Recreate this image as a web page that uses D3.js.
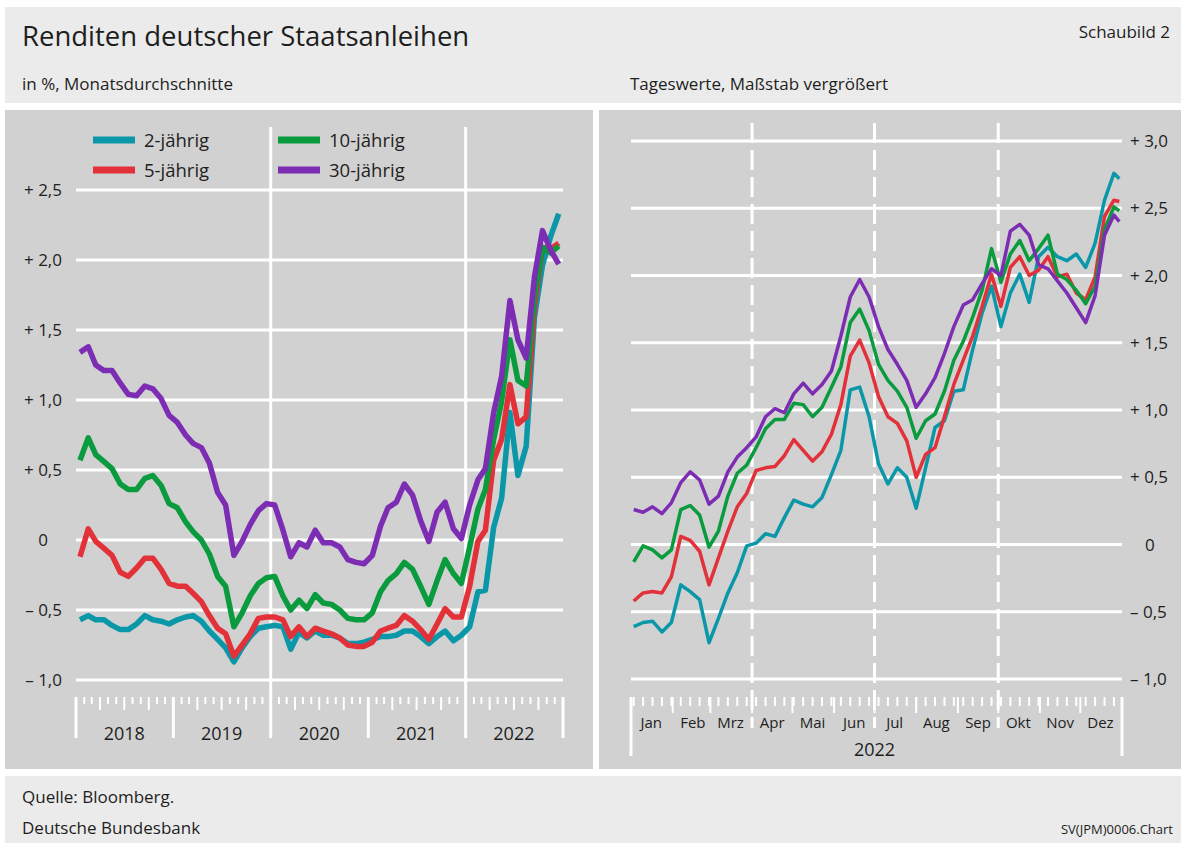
<!DOCTYPE html>
<html>
<head>
<meta charset="utf-8">
<script src="https://cdn.jsdelivr.net/npm/d3@7"></script>
<style>
  body { margin: 0; background: #fff; }
  svg text { font-family: "Open Sans", "Noto Sans", sans-serif; fill: #1e1e1e; }
</style>
</head>
<body>
<script>
// Monatsdurchschnitte Jan 2018 - Dez 2022 (in %)
var jahre = ["2018", "2019", "2020", "2021", "2022"];
var rendite2 = [
  -0.57,-0.54,-0.57,-0.57,-0.61,-0.64,-0.64,-0.60,-0.54,-0.57,-0.58,-0.60,
  -0.57,-0.55,-0.54,-0.58,-0.65,-0.71,-0.77,-0.87,-0.77,-0.69,-0.63,-0.62,
  -0.61,-0.62,-0.78,-0.66,-0.70,-0.65,-0.68,-0.68,-0.70,-0.74,-0.74,-0.73,
  -0.71,-0.69,-0.69,-0.68,-0.65,-0.65,-0.69,-0.74,-0.69,-0.65,-0.72,-0.68,
  -0.62,-0.37,-0.36,0.09,0.30,0.91,0.46,0.67,1.59,1.96,2.17,2.33];
var rendite5 = [
  -0.12,0.08,-0.01,-0.06,-0.11,-0.23,-0.26,-0.20,-0.13,-0.13,-0.21,-0.31,
  -0.33,-0.33,-0.38,-0.44,-0.54,-0.63,-0.67,-0.83,-0.75,-0.67,-0.56,-0.55,
  -0.55,-0.57,-0.69,-0.62,-0.69,-0.63,-0.65,-0.67,-0.70,-0.75,-0.76,-0.76,
  -0.73,-0.65,-0.63,-0.61,-0.54,-0.58,-0.64,-0.71,-0.60,-0.49,-0.55,-0.55,
  -0.33,-0.01,0.07,0.57,0.72,1.11,0.83,0.88,1.67,2.09,2.08,2.12];
var rendite10 = [
  0.57,0.73,0.61,0.56,0.51,0.40,0.36,0.36,0.44,0.46,0.39,0.26,
  0.23,0.13,0.06,0.00,-0.10,-0.26,-0.33,-0.62,-0.52,-0.40,-0.31,-0.27,
  -0.26,-0.40,-0.50,-0.43,-0.49,-0.39,-0.45,-0.46,-0.50,-0.56,-0.57,-0.57,
  -0.52,-0.37,-0.29,-0.24,-0.16,-0.21,-0.33,-0.46,-0.29,-0.14,-0.24,-0.31,
  -0.05,0.22,0.36,0.72,0.99,1.43,1.14,1.10,1.75,2.09,2.05,2.10];
var rendite30 = [
  1.34,1.38,1.25,1.21,1.21,1.12,1.04,1.03,1.10,1.08,1.01,0.89,
  0.84,0.75,0.69,0.66,0.55,0.34,0.25,-0.11,-0.01,0.11,0.21,0.26,
  0.25,0.07,-0.12,-0.02,-0.05,0.07,-0.02,-0.02,-0.05,-0.14,-0.16,-0.17,
  -0.11,0.10,0.23,0.27,0.40,0.32,0.14,-0.01,0.20,0.27,0.08,0.01,
  0.25,0.43,0.51,0.91,1.17,1.71,1.43,1.30,1.88,2.21,2.07,1.97];

var monatsNamen = ["Jan","Feb","Mrz","Apr","Mai","Jun","Jul","Aug","Sep","Okt","Nov","Dez"];
var tag2 = [-0.61,-0.58,-0.57,-0.65,-0.58,-0.30,-0.35,-0.41,-0.73,-0.55,-0.36,-0.21,-0.01,0.01,0.08,0.06,
  0.20,0.33,0.30,0.28,0.35,0.52,0.70,1.15,1.17,0.95,0.60,0.45,0.57,0.50,0.27,0.57,0.87,0.92,1.14,1.15,
  1.45,1.72,1.92,1.62,1.87,2.01,1.80,2.14,2.21,2.14,2.11,2.16,2.06,2.24,2.56,2.76,2.72];
var tag5 = [-0.42,-0.36,-0.35,-0.36,-0.24,0.06,0.03,-0.05,-0.30,-0.10,0.10,0.28,0.38,0.55,0.57,0.58,
  0.66,0.78,0.70,0.62,0.69,0.82,1.04,1.40,1.52,1.35,1.10,0.95,0.90,0.77,0.50,0.67,0.72,0.95,1.19,1.37,
  1.55,1.77,2.01,1.77,2.06,2.14,2.00,2.04,2.14,1.99,2.01,1.87,1.82,1.99,2.44,2.56,2.55];
var tag10 = [-0.13,-0.01,-0.04,-0.10,-0.04,0.26,0.29,0.22,-0.02,0.10,0.36,0.53,0.59,0.72,0.86,0.93,
  0.93,1.05,1.04,0.95,1.02,1.17,1.32,1.65,1.75,1.59,1.34,1.22,1.14,1.02,0.79,0.92,0.97,1.14,1.37,1.51,
  1.69,1.89,2.20,1.95,2.16,2.26,2.11,2.20,2.30,2.01,1.97,1.89,1.79,1.92,2.34,2.51,2.48];
var tag30 = [0.26,0.24,0.28,0.23,0.31,0.46,0.54,0.48,0.30,0.36,0.54,0.65,0.72,0.80,0.95,1.01,
  0.98,1.12,1.20,1.12,1.19,1.29,1.55,1.84,1.97,1.84,1.62,1.45,1.34,1.22,1.02,1.12,1.24,1.42,1.62,1.78,
  1.82,1.94,2.05,2.00,2.33,2.38,2.30,2.08,2.05,1.96,1.87,1.76,1.65,1.85,2.30,2.45,2.40];

var leftTicks = [-1, -0.5, 0, 0.5, 1, 1.5, 2, 2.5];
var rightTicks = [-1, -0.5, 0, 0.5, 1, 1.5, 2, 2.5, 3];

var serien = [
  {name: "2-jährig", farbe: "#0a97a8", monat: rendite2, tag: tag2},
  {name: "5-jährig", farbe: "#e3313a", monat: rendite5, tag: tag5},
  {name: "10-jährig", farbe: "#0a9b3e", monat: rendite10, tag: tag10},
  {name: "30-jährig", farbe: "#7c2db3", monat: rendite30, tag: tag30}
];

var W = 1186, H = 843;
var svg = d3.select("body").append("svg").attr("width", W).attr("height", H);

// Flächen
svg.append("rect").attr("x", 5).attr("y", 7).attr("width", 1176).attr("height", 96).attr("fill", "#ebebeb");
svg.append("rect").attr("x", 5).attr("y", 110).attr("width", 588).attr("height", 659).attr("fill", "#d1d1d1");
svg.append("rect").attr("x", 599).attr("y", 110).attr("width", 582).attr("height", 659).attr("fill", "#d1d1d1");
svg.append("rect").attr("x", 5).attr("y", 776).attr("width", 1176).attr("height", 67).attr("fill", "#ebebeb");

svg.append("text").attr("x", 22).attr("y", 46).style("font-size", "27.5px").text("Renditen deutscher Staatsanleihen");
svg.append("text").attr("x", 1170).attr("y", 38).attr("text-anchor", "end").style("font-size", "17px").text("Schaubild 2");
svg.append("text").attr("x", 22).attr("y", 90).style("font-size", "17px").text("in %, Monatsdurchschnitte");
svg.append("text").attr("x", 630).attr("y", 90).style("font-size", "17px").text("Tageswerte, Maßstab vergrößert");
svg.append("text").attr("x", 22).attr("y", 803).style("font-size", "17px").text("Quelle: Bloomberg.");
svg.append("text").attr("x", 22).attr("y", 834).style("font-size", "17px").text("Deutsche Bundesbank");
svg.append("text").attr("x", 1173).attr("y", 834).attr("text-anchor", "end")
  .style("font-size", "13px").style("font-family", "'Liberation Sans Narrow', 'Open Sans', sans-serif").text("SV(JPM)0006.Chart");

function fmt(v) {
  if (v === 0) return "0";
  return (v > 0 ? "+ " : "\u2013 ") + d3.format(".1f")(Math.abs(v)).replace(".", ",");
}

// ---------- linkes Schaubild ----------
var x1 = d3.scaleTime().domain([new Date(2018, 0, 1), new Date(2023, 0, 1)]).range([76, 563]);
var y1 = d3.scaleLinear().domain([-1, 2.5]).range([680, 190]);
var links = svg.append("g");

links.selectAll(".grid").data(leftTicks).enter().append("line")
  .attr("x1", 76).attr("x2", 563).attr("y1", d => y1(d)).attr("y2", d => y1(d))
  .attr("stroke", "#fff").attr("stroke-width", 3);
links.selectAll(".ylab").data(leftTicks).enter().append("text")
  .attr("x", d => d === 0 ? 48 : 62).attr("y", d => y1(d) + 6)
  .attr("text-anchor", "end").style("font-size", "17px").text(fmt);

var jahresStart = d3.timeYear.range(new Date(2018, 0, 1), new Date(2024, 0, 1));
links.selectAll(".ytick").data(jahresStart).enter().append("line")
  .attr("x1", d => x1(d)).attr("x2", d => x1(d))
  .attr("y1", d => (d.getFullYear() === 2020 || d.getFullYear() === 2022) ? 127 : 697).attr("y2", 738)
  .attr("stroke", "#fff").attr("stroke-width", 3);
var monatsStriche = d3.timeMonth.range(new Date(2018, 0, 1), new Date(2023, 0, 1)).filter(d => d.getMonth() !== 0);
links.selectAll(".mtick").data(monatsStriche).enter().append("line")
  .attr("x1", d => x1(d)).attr("x2", d => x1(d))
  .attr("y1", 697).attr("y2", d => d.getMonth() % 3 === 0 ? 710 : 704)
  .attr("stroke", "#fff").attr("stroke-width", 2);
links.selectAll(".jlab").data(jahre).enter().append("text")
  .attr("x", d => x1(new Date(+d, 6, 1))).attr("y", 740)
  .attr("text-anchor", "middle").style("font-size", "18px").text(d => d);

var monatsMitte = d3.timeMonth.range(new Date(2018, 0, 1), new Date(2023, 0, 1)).map(d => new Date(d.getFullYear(), d.getMonth(), 16));
var lineL = d3.line().x((d, i) => x1(monatsMitte[i])).y(d => y1(d));
links.selectAll(".serie").data(serien).enter().append("path")
  .attr("d", d => lineL(d.monat)).attr("fill", "none").attr("stroke", d => d.farbe)
  .attr("stroke-width", 5.5).attr("stroke-linejoin", "round");

// Legende
var leg = links.selectAll(".leg").data(serien).enter().append("g")
  .attr("transform", (d, i) => "translate(" + (i < 2 ? 93 : 278) + "," + (i % 2 === 0 ? 140 : 170) + ")");
leg.append("line").attr("x1", 0).attr("x2", 42).attr("stroke", d => d.farbe).attr("stroke-width", 7);
leg.append("text").attr("x", 51).attr("y", 7).style("font-size", "18.5px").text(d => d.name);

// ---------- rechtes Schaubild ----------
var x2 = d3.scaleTime().domain([new Date(2022, 0, 1), new Date(2023, 0, 1)]).range([631, 1122]);
var y2 = d3.scaleLinear().domain([-1, 3]).range([679, 141]);
var rechts = svg.append("g");

rechts.selectAll(".grid").data(rightTicks).enter().append("line")
  .attr("x1", 631).attr("x2", 1122).attr("y1", d => y2(d)).attr("y2", d => y2(d))
  .attr("stroke", "#fff").attr("stroke-width", 3);
rechts.selectAll(".ylab").data(rightTicks).enter().append("text")
  .attr("x", d => d === 0 ? 1145 : 1130).attr("y", d => y2(d) + 6)
  .style("font-size", "17px").text(fmt);

var quartale = [new Date(2022, 3, 1), new Date(2022, 6, 1), new Date(2022, 9, 1)];
rechts.selectAll(".q").data(quartale).enter().append("line")
  .attr("x1", d => x2(d)).attr("x2", d => x2(d)).attr("y1", 123).attr("y2", 728)
  .attr("stroke", "#fff").attr("stroke-width", 3).attr("stroke-dasharray", "20,7");
var wochen = d3.timeMonday.range(new Date(2022, 0, 1), new Date(2023, 0, 1));
rechts.selectAll(".w").data(wochen).enter().append("line")
  .attr("x1", d => x2(d)).attr("x2", d => x2(d)).attr("y1", 697).attr("y2", 706)
  .attr("stroke", "#fff").attr("stroke-width", 2);
var monate2 = d3.timeMonth.range(new Date(2022, 1, 1), new Date(2023, 0, 1));
rechts.selectAll(".m").data(monate2).enter().append("line")
  .attr("x1", d => x2(d)).attr("x2", d => x2(d)).attr("y1", 697).attr("y2", 713)
  .attr("stroke", "#fff").attr("stroke-width", 2);
rechts.selectAll(".e").data([new Date(2022, 0, 1), new Date(2023, 0, 1)]).enter().append("line")
  .attr("x1", d => x2(d)).attr("x2", d => x2(d)).attr("y1", 697).attr("y2", 756)
  .attr("stroke", "#fff").attr("stroke-width", 3);
rechts.selectAll(".mlab").data(monatsNamen).enter().append("text")
  .attr("x", (d, i) => x2(new Date(2022, i, 16))).attr("y", 728)
  .attr("text-anchor", "middle").style("font-size", "15px").text(d => d);
rechts.append("text").attr("x", x2(new Date(2022, 6, 1))).attr("y", 756)
  .attr("text-anchor", "middle").style("font-size", "18px").text("2022");

var tage = d3.timeMonday.range(new Date(2022, 0, 3), new Date(2022, 11, 27));
tage.push(new Date(2022, 11, 30));
var lineR = d3.line().x((d, i) => x2(tage[i])).y(d => y2(d));
rechts.selectAll(".serie").data(serien).enter().append("path")
  .attr("d", d => lineR(d.tag)).attr("fill", "none").attr("stroke", d => d.farbe)
  .attr("stroke-width", 3.5).attr("stroke-linejoin", "round");
</script>
</body>
</html>
